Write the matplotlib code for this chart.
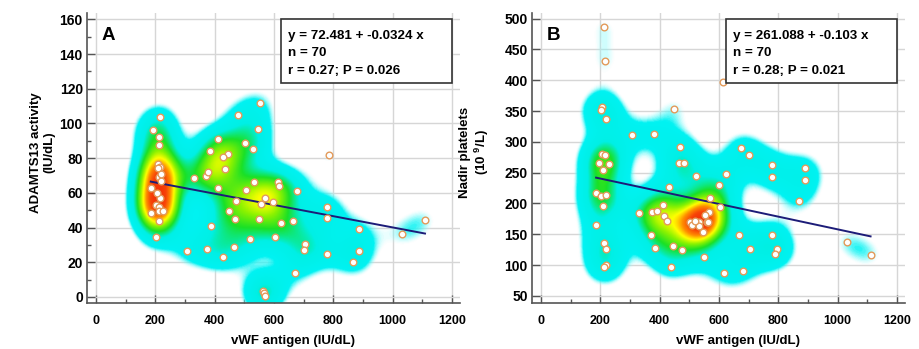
import matplotlib
matplotlib.use("Agg")
import matplotlib.pyplot as plt
import numpy as np
from matplotlib.colors import LinearSegmentedColormap
from matplotlib.patches import Rectangle
from matplotlib.ticker import MultipleLocator

# Datos
vwf_a = [553, 217, 480, 194, 211, 545, 213, 410, 501, 531, 383, 445, 430, 786,
         208, 217, 209, 211, 219, 329, 372, 379, 436, 615, 617, 533, 413, 506, 679, 185,
         473, 570, 557, 598, 217, 203, 211, 186, 212, 227, 778, 450, 778, 211, 469, 548,
         624, 664, 888, 1109, 1031, 389, 203, 520, 604, 705, 701, 466, 374, 307, 427, 778,
         888, 868, 672, 563, 565, 570, 205, 220]
adamts13 = [112, 103.6, 105, 96, 92.4, 96.7, 87.5, 91, 88.6, 85.3, 84.4, 82.3, 80.9, 81.9,
            76.7, 74.8, 74.2, 69, 67, 68.8, 69.8, 72.2, 74, 66.1, 64.2, 66.3, 62.8, 61.7, 61.1, 62.7,
            55.4, 57.3, 53.4, 55, 56.9, 53, 52, 48.6, 49.6, 49.6, 52, 49.6, 45.4, 43.8, 44.8, 44.8,
            42.8, 43.8, 39, 44.4, 36.3, 40.9, 34.4, 33.3, 34.8, 30.6, 27.1, 29, 27.5, 26.5, 23.2, 24.8,
            26.7, 20, 14, 3.6, 2.5, 0.75, 60, 71]

vwf_b = [212, 215, 613, 205, 202, 450, 218, 308, 380, 470, 674, 702, 207, 215,
         196, 230, 208, 465, 481, 779, 779, 890, 890, 522, 625, 600, 431, 186, 201, 219,
         570, 869, 208, 605, 410, 330, 374, 390, 414, 426, 568, 553, 502, 508, 533, 532,
         561, 564, 545, 186, 372, 667, 780, 212, 219, 1032, 385, 445, 475, 706, 794, 788,
         1111, 548, 218, 212, 437, 681, 616, 520]
platelets = [486, 431, 397, 356, 352, 354, 337, 311, 313, 291, 290, 278, 280, 278,
             266, 264, 254.5, 265, 266, 262.6, 243, 257.7, 238, 245, 247.5, 229.6, 227, 217, 212, 214,
             208.6, 204.7, 196, 195, 197, 184, 186, 188, 179, 172, 187, 181.5, 169.6, 164.7, 169.6, 164,
             170.6, 169.6, 153, 165, 149, 148.5, 149, 135.5, 127, 137, 128, 130.7, 125, 126, 126, 118.7,
             116.5, 113.8, 100, 97, 97, 91, 86.8, 172]

# Rectas de regresión y estadísticos
coef_a = (72.481, -0.0324)
coef_b = (261.088, -0.103)
stats_a = ["y = 72.481 + -0.0324 x", "n = 70", "r = 0.27; P = 0.026"]
stats_b = ["y = 261.088 + -0.103 x", "n = 70", "r = 0.28; P = 0.021"]

plt.rcParams["font.family"] = ["Liberation Sans", "DejaVu Sans"]
plt.rcParams["font.weight"] = "bold"
plt.rcParams["mathtext.fontset"] = "custom"
plt.rcParams["mathtext.rm"] = "Liberation Sans:bold"
plt.rcParams["mathtext.bf"] = "Liberation Sans:bold"


def heat_cmap(vmax):
    # mapa de calor: transparente -> cian -> verde -> amarillo -> rojo
    stops = [
        (0.0, (1, 1, 1, 0)),
        (0.95, (0.75, 1, 1, 0)),
        (1.45, (0.0, 0.95, 0.95, 1)),
        (0.32 * vmax, (0.0, 0.94, 0.90, 1)),
        (0.45 * vmax, (0.1, 0.88, 0.15, 1)),
        (0.57 * vmax, (0.55, 0.95, 0.0, 1)),
        (0.67 * vmax, (1.0, 1.0, 0.0, 1)),
        (0.78 * vmax, (1.0, 0.55, 0.0, 1)),
        (0.90 * vmax, (0.97, 0.27, 0.03, 1)),
        (vmax, (0.95, 0.2, 0.03, 1)),
    ]
    return LinearSegmentedColormap.from_list("heat", [(v / vmax, c) for v, c in stops])


fig = plt.figure(figsize=(9.2, 3.49), dpi=100)
ax_a = fig.add_axes([87 / 920, 46 / 349, 373 / 920, 290 / 349])
ax_b = fig.add_axes([532 / 920, 46 / 349, 373 / 920, 290 / 349])

panels = [
    (ax_a, vwf_a, adamts13, coef_a, stats_a, "A", (-30, 1227), (-3.5, 163.7), 20, 10,
     "ADAMTS13 activity\n(IU/dL)", -0.086),
    (ax_b, vwf_b, platelets, coef_b, stats_b, "B", (-30, 1227), (38.6, 509), 50, None,
     "Nadir platelets\n(10 $^{9}$/L)", -0.110),
]

for ax, x, y, coef, stats, letter, xlim, ylim, ymaj, ymin, ylabel, ylab_x in panels:
    x = np.array(x, dtype=float)
    y = np.array(y, dtype=float)
    ax.set_xlim(*xlim)
    ax.set_ylim(*ylim)

    # densidad de puntos (suma de gaussianas, ~16 px de ancho)
    sx = 16 * (xlim[1] - xlim[0]) / 373
    sy = 16 * (ylim[1] - ylim[0]) / 290
    gx = np.linspace(xlim[0], xlim[1], 500)
    gy = np.linspace(ylim[0], ylim[1], 400)
    X, Y = np.meshgrid(gx, gy)
    dens = np.zeros_like(X)
    for xi, yi in zip(x, y):
        dens += np.exp(-0.5 * (((X - xi) / sx) ** 2 + ((Y - yi) / sy) ** 2))
    vmax = dens.max()
    ax.imshow(dens, extent=(xlim[0], xlim[1], ylim[0], ylim[1]), origin="lower",
              aspect="auto", cmap=heat_cmap(vmax), vmin=0, vmax=vmax,
              interpolation="bilinear", zorder=1)

    # recta de regresión
    xs = np.array([x.min(), x.max()])
    ax.plot(xs, coef[0] + coef[1] * xs, color="#1c1c78", lw=1.4, zorder=3)

    ax.plot(x, y, "o", ms=4.8, mfc="white", mec="#E39A5A", mew=1.0, zorder=4)

    # ejes
    ax.set_axisbelow(True)
    ax.grid(True, color="#d6d6d6", lw=1)
    for side in ["top", "right"]:
        ax.spines[side].set_visible(False)
    for side in ["left", "bottom"]:
        ax.spines[side].set_color("#555555")
        ax.spines[side].set_linewidth(1.2)
    ax.xaxis.set_major_locator(MultipleLocator(200))
    ax.xaxis.set_minor_locator(MultipleLocator(100))
    ax.yaxis.set_major_locator(MultipleLocator(ymaj))
    if ymin:
        ax.yaxis.set_minor_locator(MultipleLocator(ymin))
    ax.tick_params(which="both", direction="in", color="#555555", width=1)
    ax.tick_params(which="major", length=6)
    ax.tick_params(which="minor", length=3)
    ax.tick_params(axis="y", labelsize=10, pad=3)
    ax.tick_params(axis="x", labelsize=9, pad=9)
    for lab in ax.get_xticklabels() + ax.get_yticklabels():
        lab.set_fontweight("bold")
    ax.set_xlabel("vWF antigen (IU/dL)", fontsize=9.5, fontweight="bold")
    ax.xaxis.set_label_coords(0.552, -0.112)
    ax.set_ylabel(ylabel, fontsize=9.5, fontweight="bold", linespacing=1.1)
    ax.yaxis.set_label_coords(ylab_x, 0.52)

    # letra del panel y recuadro de estadísticos
    ax.text(0.04, 0.922, letter, transform=ax.transAxes, fontsize=13.5,
            fontweight="bold", va="center")
    ax.add_patch(Rectangle((0.521, 0.760), 0.458, 0.218, transform=ax.transAxes,
                           facecolor="white", edgecolor="#333333", lw=1.2, zorder=5))
    for i, line in enumerate(stats):
        ax.text(0.540, 0.922 - i * 0.061, line, transform=ax.transAxes, fontsize=9.6,
                fontweight="bold", va="center", zorder=6)

fig.savefig("out.png", dpi=100)
